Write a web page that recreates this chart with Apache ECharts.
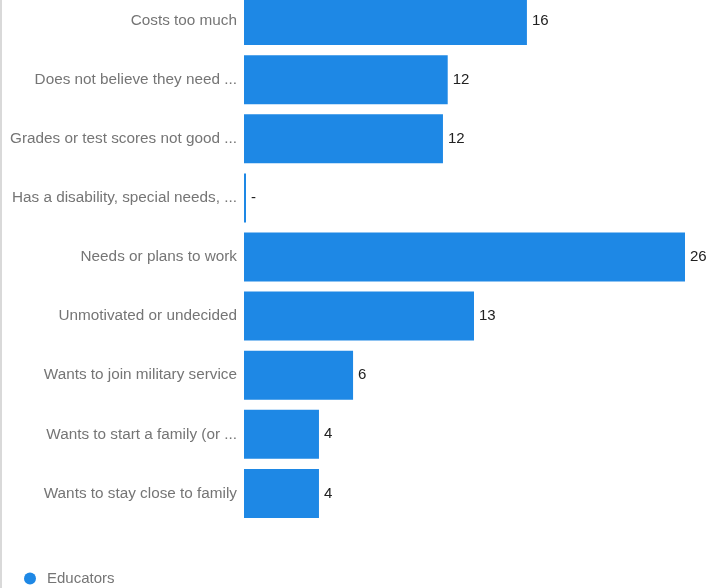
<!DOCTYPE html>
<html>
<head>
<meta charset="utf-8">
<script src="https://cdn.jsdelivr.net/npm/echarts@6/dist/echarts.min.js"></script>
<style>
  html, body { margin: 0; padding: 0; background: #fff; overflow: hidden; }
  #wrap { position: relative; width: 721px; height: 588px; overflow: hidden; }
  /* the reference is cropped at the top, so the chart is drawn 10px higher */
  #chart { position: absolute; left: 0; top: -10px; width: 721px; height: 598px; }
</style>
</head>
<body>
<div id="wrap"><div id="chart"></div></div>
<script>
'use strict';
// categories as shown (already truncated in the picture)
var categories = [
  'Costs too much',
  'Does not believe they need ...',
  'Grades or test scores not good ...',
  'Has a disability, special needs, ...',
  'Needs or plans to work',
  'Unmotivated or undecided',
  'Wants to join military service',
  'Wants to start a family (or ...',
  'Wants to stay close to family'
];
// bar lengths
var educators = [16.68, 12.01, 11.73, 0, 26, 13.56, 6.43, 4.42, 4.42];
// labels printed next to the bars
var valueLabels = ['16', '12', '12', '-', '26', '13', '6', '4', '4'];

var myChart = echarts.init(document.getElementById('chart'));

var font = 'Liberation Sans, Arial, sans-serif';

var option = {
  backgroundColor: '#fff',
  animation: false,
  graphic: [
    {
      type: 'rect',
      left: 0,
      top: 0,
      shape: { width: 2, height: 598 },
      style: { fill: '#d9d9d9' }
    }
  ],
  legend: {
    left: 19,
    top: 576,
    itemWidth: 12,
    itemHeight: 12,
    icon: 'circle',
    textStyle: {
      fontFamily: font,
      fontSize: 15,
      color: '#757575',
      padding: [0, 0, 0, 6]
    },
    data: ['Educators']
  },
  grid: {
    left: 244,
    right: 36,
    top: 1,
    height: 532
  },
  xAxis: {
    type: 'value',
    min: 0,
    max: 26,
    show: false
  },
  yAxis: {
    type: 'category',
    inverse: true,
    data: categories,
    axisLine: { show: false },
    axisTick: { show: false },
    axisLabel: {
      margin: 7,
      fontFamily: font,
      fontSize: 15.3,
      color: '#757575'
    }
  },
  series: [
    {
      name: 'Educators',
      type: 'bar',
      barWidth: 49,
      barMinHeight: 2,
      data: educators,
      itemStyle: { color: '#1e88e5' },
      label: {
        show: true,
        position: 'right',
        distance: 5,
        fontFamily: font,
        fontSize: 15,
        color: '#212121',
        formatter: function (p) {
          return valueLabels[p.dataIndex];
        }
      }
    }
  ]
};

myChart.setOption(option);
</script>
</body>
</html>
